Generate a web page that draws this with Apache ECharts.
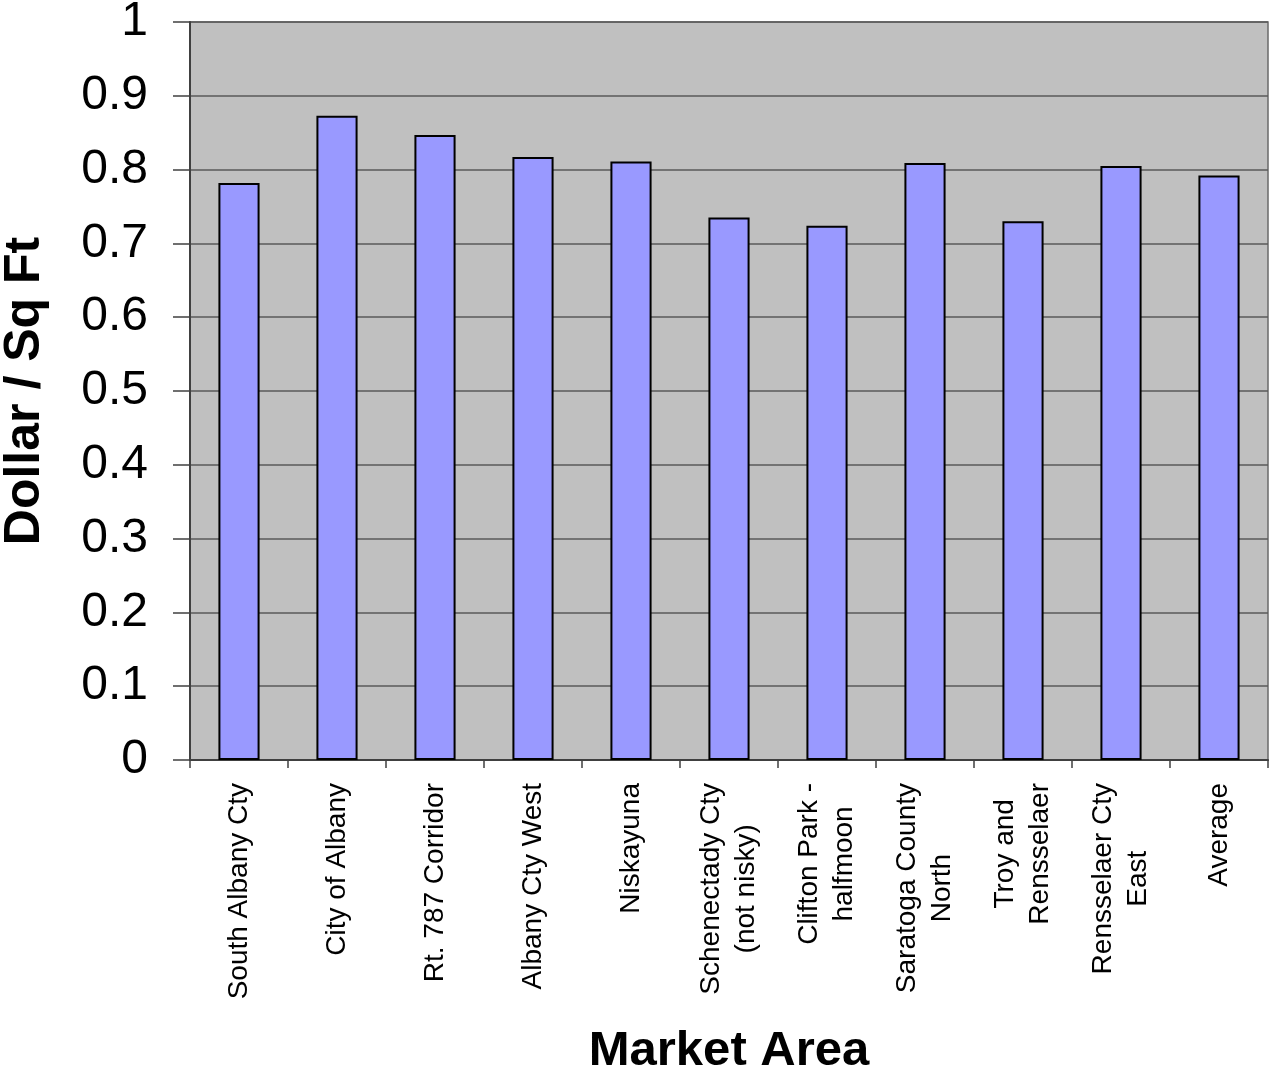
<!DOCTYPE html>
<html>
<head>
<meta charset="utf-8">
<title>Dollar / Sq Ft by Market Area</title>
<script src="https://cdn.jsdelivr.net/npm/echarts@6/dist/echarts.min.js"></script>
<style>
  html, body { margin: 0; padding: 0; background: #ffffff; }
  #chart { width: 1270px; height: 1071px; }
</style>
</head>
<body>
<div id="chart"></div>
<script>
// Market areas (line breaks as shown under the axis)
const marketAreas = [
  'South Albany Cty',
  'City of Albany',
  'Rt. 787 Corridor',
  'Albany Cty West',
  'Niskayuna',
  'Schenectady Cty\n(not nisky)',
  'Clifton Park -\nhalfmoon',
  'Saratoga County\nNorth',
  'Troy and\nRensselaer',
  'Rensselaer Cty\nEast',
  'Average'
];

// Price per square foot for each area
const dollarPerSqFt = [0.782, 0.873, 0.847, 0.817, 0.811, 0.735, 0.724, 0.809, 0.730, 0.805, 0.792];

// Value axis ticks
const yTicks = [0, 0.1, 0.2, 0.3, 0.4, 0.5, 0.6, 0.7, 0.8, 0.9, 1];

const FONT = '"Liberation Sans", Arial, sans-serif';

const chart = echarts.init(document.getElementById('chart'), null, { renderer: 'canvas' });

chart.setOption({
  animation: false,
  textStyle: { fontFamily: FONT, color: '#000' },
  grid: {
    left: 190,
    right: 2,
    top: 22,
    bottom: 311,
    containLabel: false,
    outerBoundsMode: 'none',
    show: true,
    backgroundColor: '#c0c0c0',
    borderColor: '#6a6a6a',
    borderWidth: 1.5
  },
  xAxis: {
    type: 'category',
    data: marketAreas,
    name: 'Market Area',
    nameLocation: 'middle',
    nameGap: 267,
    nameTextStyle: { fontFamily: FONT, fontSize: 49, fontWeight: 'bold', color: '#000' },
    axisLine: { show: true, lineStyle: { color: '#404040', width: 2 } },
    axisTick: { show: true, alignWithLabel: false, length: 8, lineStyle: { color: '#404040', width: 1.5 } },
    axisLabel: {
      interval: 0,
      rotate: 90,
      margin: 23,
      color: '#000',
      fontFamily: FONT,
      fontSize: 28,
      lineHeight: 35,
      // each line is centred within the label block
      formatter: function (v) {
        return v.split('\n').map(function (s) { return '{c|' + s + '}'; }).join('\n');
      },
      rich: {
        c: { align: 'center', fontFamily: FONT, fontSize: 28, lineHeight: 35, color: '#000' }
      }
    }
  },
  yAxis: {
    type: 'value',
    min: yTicks[0],
    max: yTicks[yTicks.length - 1],
    interval: 0.1,
    name: 'Dollar / Sq Ft',
    nameLocation: 'middle',
    nameRotate: 90,
    nameGap: 140,
    nameTextStyle: { fontFamily: FONT, fontSize: 50, fontWeight: 'bold', color: '#000' },
    axisLine: { show: true, lineStyle: { color: '#404040', width: 2 } },
    axisTick: { show: true, inside: false, length: 17, lineStyle: { color: '#404040', width: 1.5 } },
    axisLabel: {
      margin: 42,
      color: '#000',
      fontFamily: FONT,
      fontSize: 48,
      formatter: function (v) {
        const t = yTicks.find(function (k) { return Math.abs(k - v) < 1e-9; });
        return t === undefined ? '' : String(t);
      }
    },
    splitLine: { show: true, lineStyle: { color: '#5a5a5a', width: 1.5 } }
  },
  series: [{
    type: 'bar',
    data: dollarPerSqFt,
    barWidth: '42%',
    itemStyle: {
      color: '#9999ff',
      borderColor: '#000000',
      borderWidth: 2
    }
  }]
});
</script>
</body>
</html>
